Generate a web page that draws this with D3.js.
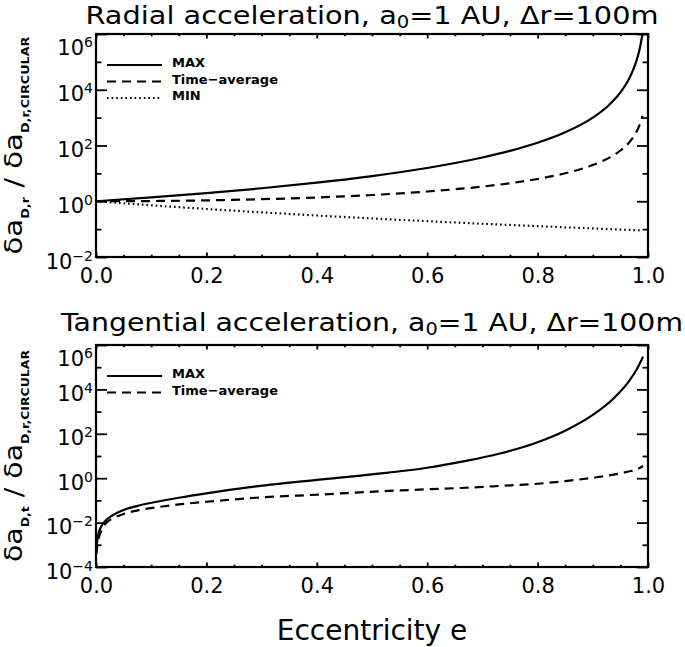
<!DOCTYPE html>
<html><head><meta charset="utf-8">
<script src="https://cdn.jsdelivr.net/npm/d3@7"></script>
<style>body{margin:0;background:#fff} svg{display:block} text{font-family:"DejaVu Sans",sans-serif;white-space:pre}</style>
</head><body>
<svg id="c" width="685" height="647"></svg>
<script>
// ---------------- DATA ----------------
const xTicks = [0, 0.2, 0.4, 0.6, 0.8, 1.0];
const xTickLabels = ["0.0", "0.2", "0.4", "0.6", "0.8", "1.0"];
const xMinorTicks = [0.05,0.1,0.15,0.25,0.3,0.35,0.45,0.5,0.55,0.65,0.7,0.75,0.85,0.9,0.95];

const yTicksTop = [1e-2, 1e0, 1e2, 1e4, 1e6];
const yTickExpTop = ["\u22122", "0", "2", "4", "6"];
const yMinorTop = [1e-1, 1e1, 1e3, 1e5];
const yTicksBot = [1e-4, 1e-2, 1e0, 1e2, 1e4, 1e6];
const yTickExpBot = ["\u22124", "\u22122", "0", "2", "4", "6"];
const yMinorBot = [1e-3, 1e-1, 1e1, 1e3, 1e5];

// Radial panel
const eRad = [0, 0.1, 0.2, 0.3, 0.4, 0.5, 0.6, 0.7, 0.75, 0.8, 0.85, 0.9, 0.93, 0.95, 0.97, 0.98, 0.985, 0.99];
const radMax = [1, 1.37, 1.95, 2.92, 4.63, 8.0, 15.6, 37.0, 64.0, 125, 296, 1000, 2915, 8000, 37000, 125000, 296000, 1000000];
const radAvg = [1, 1.018, 1.076, 1.185, 1.368, 1.679, 2.234, 3.36, 4.43, 6.3, 10.07, 19.9, 36.7, 66.1, 162.5, 334, 558, 1153];
const radMin = [1, 0.716, 0.528, 0.399, 0.308, 0.242, 0.193, 0.156, 0.141, 0.128, 0.116, 0.106, 0.100, 0.0966, 0.0932, 0.0916, 0.0907, 0.0899];

// Tangential panel
const eTan = [0.001, 0.002, 0.005, 0.01, 0.02, 0.03, 0.05, 0.08, 0.11, 0.15, 0.2, 0.29, 0.41, 0.53, 0.6, 0.67, 0.73, 0.8, 0.85, 0.9, 0.94, 0.965, 0.98, 0.991];
const tanMax = [7.1e-4, 1.41e-3, 3.55e-3, 7.1e-3, 0.0141, 0.0214, 0.0372, 0.0603, 0.0871, 0.132, 0.209, 0.427, 0.891, 1.78, 2.95, 6.0, 12.6, 41.7, 138, 708, 4470, 22400, 83000, 295000];
const tanAvg = [4.0e-4, 7.9e-4, 2.0e-3, 4.5e-3, 0.0105, 0.0151, 0.0245, 0.0372, 0.049, 0.066, 0.087, 0.132, 0.186, 0.269, 0.316, 0.372, 0.447, 0.562, 0.741, 1.05, 1.48, 2.0, 2.51, 3.55];

const titleTop = ["Radial acceleration, a", "0", "=1 AU, \u0394r=100m"];
const titleBot = ["Tangential acceleration, a", "0", "=1 AU, \u0394r=100m"];
const yLabTop = ["\u03b4a", "D,r", " / \u03b4a", "D,r,CIRCULAR"];
const yLabBot = ["\u03b4a", "D,t", " / \u03b4a", "D,r,CIRCULAR"];
const legTop = [{name:"MAX", dash:null}, {name:"Time\u2212average", dash:"9,6"}, {name:"MIN", dash:"1.6,3"}];
const legBot = [{name:"MAX", dash:null}, {name:"Time\u2212average", dash:"9,6"}];
const xTitle = "Eccentricity e";

// ---------------- DRAW ----------------
const svg = d3.select("#c");
const X0 = 96, X1 = 648;
const x = d3.scaleLinear().domain([0, 1]).range([X0, X1]);

function zip(es, vs){ return es.map((e,i)=>({e, v: vs[i]})); }

function panel(cfg){
  const y = d3.scaleLog().domain(cfg.domain).range([cfg.y1, cfg.y0]);
  const g = svg.append("g");
  const clipId = "clip" + cfg.id;
  svg.append("clipPath").attr("id", clipId).append("rect")
    .attr("x", X0).attr("y", cfg.y0).attr("width", X1 - X0).attr("height", cfg.y1 - cfg.y0);

  const styleAxis = sel => { sel.select(".domain").remove(); sel.selectAll("line").attr("stroke","#000").attr("stroke-width",1.8); };

  // x axes
  g.append("g").attr("transform", `translate(0,${cfg.y1})`)
    .call(d3.axisBottom(x).tickValues(xTicks).tickSize(-4.5).tickPadding(11).tickFormat((d,i)=>xTickLabels[i]))
    .call(styleAxis)
    .call(s => s.selectAll("text").attr("font-size", 21).attr("font-family","DejaVu Sans").attr("fill","#000"));
  g.append("g").attr("transform", `translate(0,${cfg.y1})`)
    .call(d3.axisBottom(x).tickValues(xMinorTicks).tickSize(-2.3).tickFormat(""))
    .call(styleAxis);
  g.append("g").attr("transform", `translate(0,${cfg.y0})`)
    .call(d3.axisTop(x).tickValues(xTicks).tickSize(-4.5).tickFormat(""))
    .call(styleAxis);
  g.append("g").attr("transform", `translate(0,${cfg.y0})`)
    .call(d3.axisTop(x).tickValues(xMinorTicks).tickSize(-2.3).tickFormat(""))
    .call(styleAxis);

  // y axes
  const nT = cfg.yTicks.length;
  const yl = g.append("g").attr("transform", `translate(${X0},0)`)
    .call(d3.axisLeft(y).tickValues(cfg.yTicks).tickSize(-11).tickPadding(3).tickFormat(""))
    .call(styleAxis);
  yl.selectAll(".tick text").each(function(d, i){
    const t = d3.select(this).attr("dy", null).attr("y", i === nT - 1 ? 20 : 11)
      .attr("font-family","DejaVu Sans").attr("fill","#000");
    t.append("tspan").attr("font-size", 21).text("10");
    t.append("tspan").attr("font-size", 14).attr("dy", -8).text(cfg.yExp[i]);
  });
  g.append("g").attr("transform", `translate(${X0},0)`)
    .call(d3.axisLeft(y).tickValues(cfg.yMinor).tickSize(-5.5).tickFormat(""))
    .call(styleAxis);
  g.append("g").attr("transform", `translate(${X1},0)`)
    .call(d3.axisRight(y).tickValues(cfg.yTicks).tickSize(-11).tickFormat(""))
    .call(styleAxis);
  g.append("g").attr("transform", `translate(${X1},0)`)
    .call(d3.axisRight(y).tickValues(cfg.yMinor).tickSize(-5.5).tickFormat(""))
    .call(styleAxis);

  // frame
  g.append("rect").attr("x", X0).attr("y", cfg.y0).attr("width", X1 - X0).attr("height", cfg.y1 - cfg.y0)
    .attr("fill", "none").attr("stroke", "#000").attr("stroke-width", 2.2);

  // curves
  const line = d3.line().x(d => x(d.e)).y(d => y(d.v)).curve(d3.curveMonotoneX);
  cfg.series.forEach(s => {
    g.append("path").attr("clip-path", `url(#${clipId})`)
      .attr("d", line(zip(s.e, s.v))).attr("fill", "none").attr("stroke", "#000")
      .attr("stroke-width", 2.2).attr("stroke-dasharray", s.dash);
  });

  // legend
  cfg.legend.forEach((L, i) => {
    const ly = cfg.legY + i * 16.5;
    g.append("line").attr("x1", 107).attr("x2", 162).attr("y1", ly).attr("y2", ly)
      .attr("stroke", "#000").attr("stroke-width", 2).attr("stroke-dasharray", L.dash);
    g.append("text").attr("x", 172).attr("y", ly + 2).attr("font-size", 13).attr("font-weight", "bold")
      .text(L.name);
  });

  // title
  const tt = svg.append("text").attr("x", (X0 + X1) / 2).attr("y", cfg.titleY).attr("text-anchor", "middle")
    .attr("font-size", 25).attr("textLength", cfg.titleLen).attr("lengthAdjust", "spacingAndGlyphs");
  tt.append("tspan").text(cfg.title[0]);
  tt.append("tspan").attr("font-size", 17).attr("dy", 4).text(cfg.title[1]);
  tt.append("tspan").attr("dy", -4).text(cfg.title[2]);

  // y label
  const cy = (cfg.y0 + cfg.y1) / 2;
  const yt = svg.append("text").attr("transform", `translate(22,${cy}) rotate(-90)`).attr("text-anchor", "middle")
    .attr("font-size", 25).attr("textLength", cfg.yLabLen).attr("lengthAdjust", "spacingAndGlyphs");
  yt.append("tspan").text(cfg.yLab[0]);
  yt.append("tspan").attr("font-size", 11).attr("font-weight", "bold").attr("dy", 7).text(cfg.yLab[1]);
  yt.append("tspan").attr("dy", -7).text(cfg.yLab[2]);
  yt.append("tspan").attr("font-size", 11).attr("font-weight", "bold").attr("dy", 7).text(cfg.yLab[3]);
}

panel({id: "t", domain: [1e-2, 1e6], y0: 34, y1: 257, yTicks: yTicksTop, yExp: yTickExpTop, yMinor: yMinorTop,
  series: [{e: eRad, v: radMax, dash: null}, {e: eRad, v: radAvg, dash: "9,6"}, {e: eRad, v: radMin, dash: "1.6,3"}],
  legend: legTop, legY: 65, title: titleTop, titleY: 24, titleLen: 573, yLab: yLabTop, yLabLen: 218});

panel({id: "b", domain: [1e-4, 1e6], y0: 345, y1: 567, yTicks: yTicksBot, yExp: yTickExpBot, yMinor: yMinorBot,
  series: [{e: eTan, v: tanMax, dash: null}, {e: eTan, v: tanAvg, dash: "9,6"}],
  legend: legBot, legY: 376, title: titleBot, titleY: 331, titleLen: 622, yLab: yLabBot, yLabLen: 212});

svg.append("text").attr("x", (X0 + X1) / 2).attr("y", 640).attr("text-anchor", "middle")
  .attr("font-size", 28).text(xTitle);
</script>
</body></html>
